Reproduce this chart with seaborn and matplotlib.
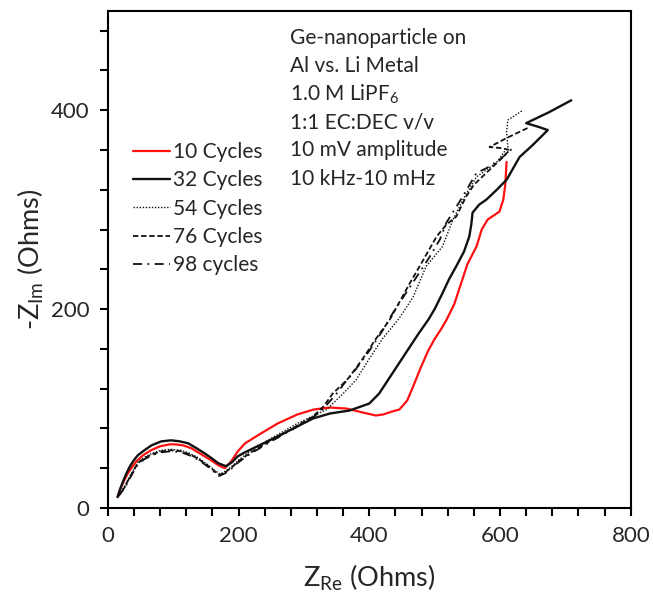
import numpy as np
import pandas as pd
import matplotlib
matplotlib.use("Agg")
import matplotlib.pyplot as plt
import seaborn as sns
from matplotlib.ticker import MultipleLocator

sns.set_style("ticks")
plt.rcParams['font.family'] = ['Lato', 'DejaVu Sans']
plt.rcParams['mathtext.fontset'] = 'custom'
plt.rcParams['mathtext.rm'] = 'Lato'
plt.rcParams['mathtext.it'] = 'Lato'

# Nyquist data (Z_re, -Z_im in Ohms)
re_10 = [15, 19, 24, 30, 36, 44, 54, 66, 80, 95, 102, 115, 128, 138, 148, 158, 169, 179,
         189, 199, 210, 232, 260, 290, 315, 339, 365, 390, 410, 421, 435, 446, 458, 467,
         478, 490, 500, 510, 518, 530, 540, 550, 564, 572, 581, 599, 605, 608, 610]
im_10 = [11, 19, 26, 34, 40, 47, 53, 58, 62, 64, 64, 63, 60, 56, 52, 48, 43, 40,
         47, 57, 65, 74, 85, 94, 99, 101, 100, 96, 93, 94, 97, 99, 108, 122,
         140, 158, 170, 180, 189, 205, 225, 245, 263, 280, 290, 298, 310, 325, 348]

re_32 = [15, 19, 23, 28, 34, 40, 46, 56, 67, 82, 97, 110, 123, 136, 148, 159, 169, 181,
         190, 199, 210, 232, 260, 290, 314, 340, 370, 400, 415, 429, 445, 460, 475, 490,
         500, 512, 522, 533, 545, 553, 556, 558, 568, 579, 595, 610, 630, 650, 673, 660,
         640, 675, 709]
im_32 = [11, 19, 26, 34, 42, 48, 53, 58, 63, 67, 68, 67, 65, 60, 55, 50, 45, 42,
         46, 52, 56, 63, 72, 82, 90, 95, 98, 105, 115, 129, 145, 160, 175, 189,
         200, 216, 230, 243, 258, 273, 285, 297, 305, 310, 320, 330, 353, 365, 380, 383,
         387, 398, 410]

re_54 = [15, 20, 26, 33, 40, 46, 56, 68, 82, 97, 112, 125, 137, 148, 158, 165, 172, 180,
         190, 200, 217, 250, 290, 335, 360, 380, 400, 420, 445, 467, 487, 512, 528, 545,
         564, 594, 612, 610, 612, 635]
im_54 = [11, 16, 22, 31, 39, 46, 51, 55, 58, 59, 58, 55, 51, 46, 41, 37, 34, 37,
         42, 48, 57, 70, 85, 99, 115, 129, 150, 170, 190, 212, 243, 263, 290, 312,
         333, 347, 363, 378, 390, 400]

re_76 = [15, 20, 26, 33, 40, 46, 56, 68, 82, 97, 112, 125, 137, 148, 158, 165, 171, 180,
         190, 200, 217, 250, 280, 314, 330, 344, 360, 370, 390, 410, 431, 462, 477, 490,
         503, 518, 533, 548, 560, 579, 600, 615, 600, 584, 610, 645]
im_76 = [11, 15, 21, 30, 38, 45, 50, 54, 57, 58, 57, 54, 50, 45, 40, 36, 33, 36,
         41, 47, 55, 68, 79, 92, 102, 115, 125, 132, 150, 170, 189, 226, 243, 258,
         273, 285, 293, 313, 325, 337, 350, 360, 362, 363, 372, 383]

re_98 = [15, 20, 26, 33, 40, 46, 56, 68, 82, 97, 112, 125, 137, 148, 158, 165, 170, 180,
         190, 200, 217, 250, 280, 314, 330, 350, 365, 380, 400, 420, 436, 455, 472, 490,
         508, 518, 540, 564, 580, 599, 620]
im_98 = [11, 15, 20, 29, 37, 44, 49, 53, 56, 57, 56, 53, 49, 44, 39, 35, 32, 35,
         40, 46, 54, 67, 78, 91, 100, 115, 128, 140, 158, 178, 196, 215, 232, 250,
         270, 287, 310, 337, 342, 350, 362]

labels = ["10 Cycles", "32 Cycles", "54 Cycles", "76 Cycles", "98 cycles"]
notes = ["Ge-nanoparticle on", "Al vs. Li Metal", "1.0 M LiPF$_6$",
         "1:1 EC:DEC v/v", "10 mV amplitude", "10 kHz-10 mHz"]

series = [(re_10, im_10), (re_32, im_32), (re_54, im_54), (re_76, im_76), (re_98, im_98)]
styles = [dict(color="#ff1010", linestyle="-", linewidth=1.6),
          dict(color="#111111", linestyle="-", linewidth=1.7),
          dict(color="#111111", linestyle=(0, (1, 1.2)), linewidth=1.0),
          dict(color="#111111", linestyle=(0, (3, 1.5)), linewidth=1.3),
          dict(color="#111111", linestyle=(0, (5, 3, 1, 3)), linewidth=1.3)]

fig = plt.figure(figsize=(6.53, 5.99), dpi=100)
ax = fig.add_axes([0.165, 0.152, 0.801, 0.830])

for (xs, ys), lab, st in zip(series, labels, styles):
    df = pd.DataFrame({"re": xs, "im": ys})
    sns.lineplot(data=df, x="re", y="im", sort=False, estimator=None, ax=ax, label=lab, **st)

ax.set_xlim(0, 800)
ax.set_ylim(0, 500)
ax.xaxis.set_major_locator(MultipleLocator(200))
ax.xaxis.set_minor_locator(MultipleLocator(40))
ax.yaxis.set_major_locator(MultipleLocator(200))
ax.yaxis.set_minor_locator(MultipleLocator(40))
ax.tick_params(which="both", direction="out", length=6, width=1.5, color="black",
               labelsize=16, pad=7)
for sp in ax.spines.values():
    sp.set_linewidth(1.5)
    sp.set_color("black")

ax.set_xlabel(r"Z$_{\mathrm{Re}}$ (Ohms)", fontsize=19.5, labelpad=12)
ax.set_ylabel(r"-Z$_{\mathrm{Im}}$ (Ohms)", fontsize=19.5, labelpad=4)

for i, t in enumerate(notes):
    ax.text(0.348, 0.945 - i * 0.0565, t, transform=ax.transAxes, fontsize=15,
            ha="left", va="center")

ax.legend(loc="upper left", bbox_to_anchor=(0.048, 0.736), frameon=False, fontsize=15,
          handlelength=1.8, handletextpad=0.12, labelspacing=0.4, borderpad=0,
          borderaxespad=0)

fig.savefig("out.png", dpi=100)
